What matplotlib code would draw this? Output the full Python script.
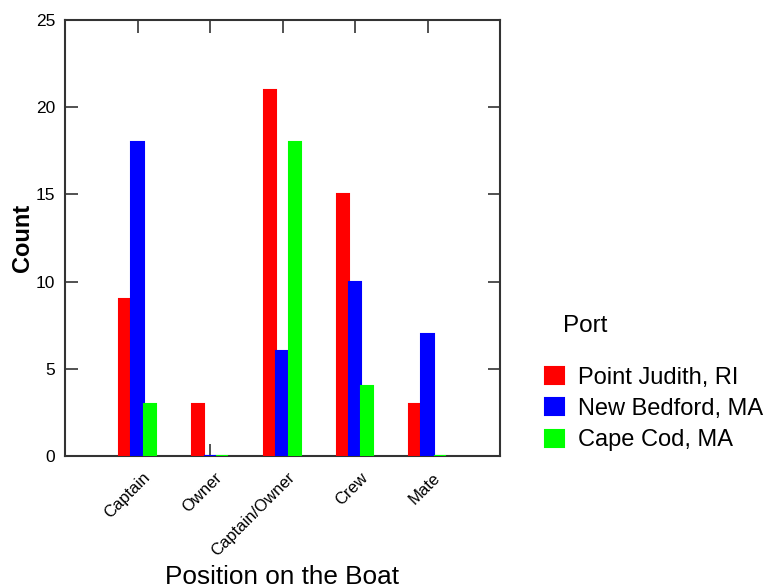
import matplotlib
matplotlib.use("Agg")
import matplotlib.pyplot as plt
import matplotlib.transforms as mtransforms
import numpy as np

categories = ["Captain", "Owner", "Captain/Owner", "Crew", "Mate"]
series_names = ["Point Judith, RI", "New Bedford, MA", "Cape Cod, MA"]
point_judith = [9, 3, 21, 15, 3]
new_bedford = [18, 0, 6, 10, 7]
cape_cod = [3, 0, 18, 4, 0]
colors = ["#ff0000", "#0000ff", "#00ff00"]

plt.rcParams['font.family'] = ['Liberation Sans', 'DejaVu Sans']

fig = plt.figure(figsize=(7.78, 5.88), dpi=100)
ax = fig.add_axes([65/778, 1-456/588, (500-65)/778, (456-20)/588])

x = np.arange(1, len(categories) + 1)
w = 0.17
for i, (vals, c, name) in enumerate(zip([point_judith, new_bedford, cape_cod], colors, series_names)):
    ax.bar(x + (i - 1) * w, vals, width=w, color=c, edgecolor=c, linewidth=1.5,
           label=name, zorder=5)

ax.set_xlim(0, 6)
ax.set_ylim(0, 25)
ax.set_yticks([0, 5, 10, 15, 20, 25])
ax.set_xticks(x)
ax.tick_params(axis='both', direction='in', top=True, right=True, length=9, width=1.2, color='#333333')
ax.tick_params(axis='y', labelsize=12.5, pad=7)
ax.tick_params(axis='x', pad=14)
ax.set_xticklabels(categories, rotation=45, ha='right', va='center',
                   rotation_mode='anchor', fontsize=12)
offset = mtransforms.ScaledTranslation(10/100, 0, fig.dpi_scale_trans)
for lab in ax.get_xticklabels():
    lab.set_transform(lab.get_transform() + offset)
for s in ax.spines.values():
    s.set_linewidth(1.5)
    s.set_color('#333333')
    s.set_zorder(4)

ax.set_ylabel("Count", fontsize=17, fontweight='bold')
ax.yaxis.set_label_coords((23-65)/435, 0.5)
ax.yaxis.label.set_va('center')
ax.set_xlabel("Position on the Boat", fontsize=18.8)
ax.xaxis.set_label_coords((282-65)/435, (456-577)/436)
ax.xaxis.label.set_va('center')

fig.text(563/778, 1-326/588, "Port", fontsize=17.5, ha='left', va='center')
leg = ax.legend(loc='center left', bbox_to_anchor=(545/778, 1-409/588), bbox_transform=fig.transFigure,
                frameon=False, fontsize=17, borderpad=0, borderaxespad=0,
                handlelength=0.8, handleheight=0.75, handletextpad=0.6, labelspacing=0.4)

fig.savefig("out.png", dpi=100)
